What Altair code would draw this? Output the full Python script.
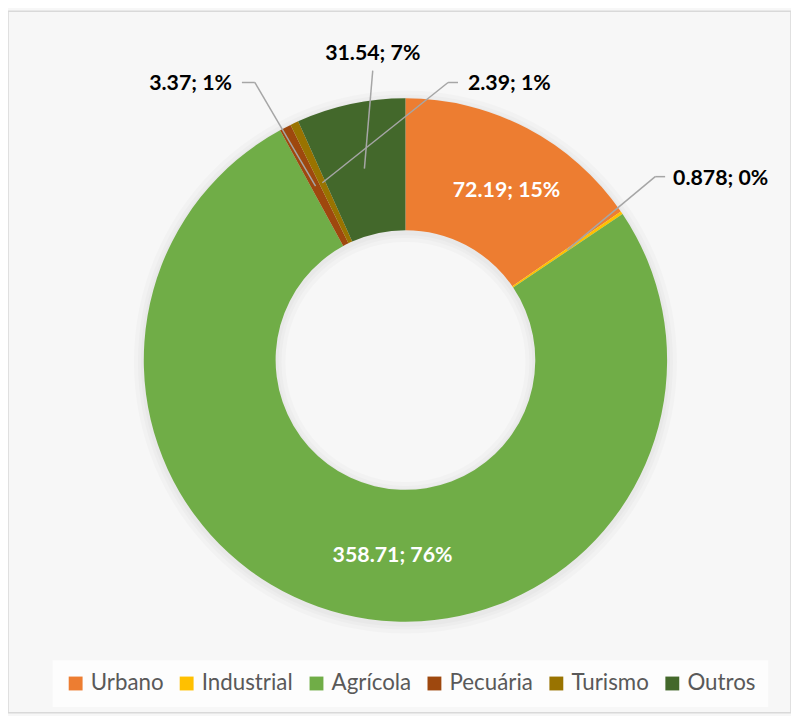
import math
import altair as alt
import pandas as pd

categories = ["Urbano", "Industrial", "Agrícola", "Pecuária", "Turismo", "Outros"]
values = [72.19, 0.878, 358.71, 3.37, 2.39, 31.54]
colors = ["#ED7D31", "#FFC000", "#70AD47", "#9E480E", "#997300", "#43682B"]

# layout constants (pixels)
W, H = 790, 708
CX, CY = 401, 352
R_OUT, R_IN = 264, 131
R_MID = (R_OUT + R_IN) / 2

total = sum(values)
pcts = [round(v / total * 100) for v in values]
labels = [f"{v}; {p}%" for v, p in zip(values, pcts)]

df = pd.DataFrame({"cat": categories, "value": values, "order": list(range(len(values)))})

# mid angles (clockwise from 12 o'clock)
mids = []
cum = 0.0
for v in values:
    mids.append((cum + v / 2) / total * 2 * math.pi)
    cum += v

def polar(a, r):
    return CX + r * math.sin(a), CY - r * math.cos(a)

# label layout: (kind, elbow/text offset from centre, horizontal segment, text gap, align)
layout = {
    "Urbano":     ("inside", (102, -170)),
    "Agrícola":   ("inside", (-13, 198)),
    "Industrial": ("out", (252, -185), 10, 8, "left"),
    "Pecuária":   ("out", (-152, -280), -13, -10, "right"),
    "Turismo":    ("out", (43, -280), 10, 10, "left"),
    "Outros":     ("top", (-33, -292)),
}

text_rows, rule_rows = [], []
for i, c in enumerate(categories):
    spec = layout[c]
    kind = spec[0]
    ox, oy = spec[1]
    ex, ey = CX + ox, CY + oy
    if kind == "inside":
        text_rows.append({"x": ex, "y": ey, "t": labels[i], "align": "center", "color": "white"})
        continue
    sx, sy = polar(mids[i], R_MID)
    rule_rows.append({"x": sx, "y": sy, "x2": ex, "y2": ey})
    if kind == "out":
        seg, gap, align = spec[2], spec[3], spec[4]
        rule_rows.append({"x": ex, "y": ey, "x2": ex + seg, "y2": ey})
        text_rows.append({"x": ex + seg + gap, "y": ey + 2, "t": labels[i], "align": align, "color": "black"})
    else:
        text_rows.append({"x": ex, "y": ey - 17, "t": labels[i], "align": "center", "color": "black"})

tdf = pd.DataFrame(text_rows)
rdf = pd.DataFrame(rule_rows)

# soft shadow rings behind the donut
shadow_layers = []
for k, (ro, ri) in enumerate([(R_OUT + 10, R_IN - 10), (R_OUT + 6, R_IN - 6), (R_OUT + 3, R_IN - 3)]):
    shadow_layers.append(
        alt.Chart(pd.DataFrame({"value": [total]})).mark_arc(
            radius=ro, radius2=ri, color="#000000", opacity=0.018
        ).encode(theta=alt.Theta("value:Q"), x=alt.value(CX), y=alt.value(CY + 2))
    )

arcs = alt.Chart(df).mark_arc(radius=R_OUT, radius2=R_IN).encode(
    theta=alt.Theta("value:Q", stack=True),
    order=alt.Order("order:Q"),
    color=alt.Color(
        "cat:N",
        scale=alt.Scale(domain=categories, range=colors),
        sort=categories,
        legend=alt.Legend(
            title=None, orient="none", legendX=45, legendY=655, direction="horizontal",
            columns=6, symbolType="square", symbolSize=196, symbolStrokeWidth=0,
            labelFont="Lato", labelFontSize=22.5, labelColor="#595959", labelOffset=4,
            columnPadding=12, fillColor="#FDFDFD", padding=12,
        ),
    ),
    x=alt.value(CX),
    y=alt.value(CY),
)

rules = alt.Chart(rdf).mark_rule(color="#A6A6A6", strokeWidth=1.5).encode(
    x=alt.X("x:Q", scale=None, axis=None),
    y=alt.Y("y:Q", scale=None, axis=None),
    x2="x2:Q",
    y2="y2:Q",
)

def text_layer(align, color):
    sub = tdf[(tdf["align"] == align) & (tdf["color"] == color)]
    return alt.Chart(sub).mark_text(
        font="Lato", fontSize=21.5, fontWeight="bold", align=align, baseline="middle", color=color
    ).encode(
        x=alt.X("x:Q", scale=None, axis=None),
        y=alt.Y("y:Q", scale=None, axis=None),
        text="t:N",
    )

layers = shadow_layers + [arcs, rules]
for al in ["left", "right", "center"]:
    for col in ["white", "black"]:
        if ((tdf["align"] == al) & (tdf["color"] == col)).any():
            layers.append(text_layer(al, col))

chart = alt.layer(*layers).properties(
    width=W, height=H, padding=0, autosize=alt.AutoSizeParams(type="none"),
    background="#F7F7F7",
).configure_view(stroke="#D9D9D9", strokeWidth=1.5)

chart.save("out.html", embed_options={"renderer": "svg", "actions": False})
